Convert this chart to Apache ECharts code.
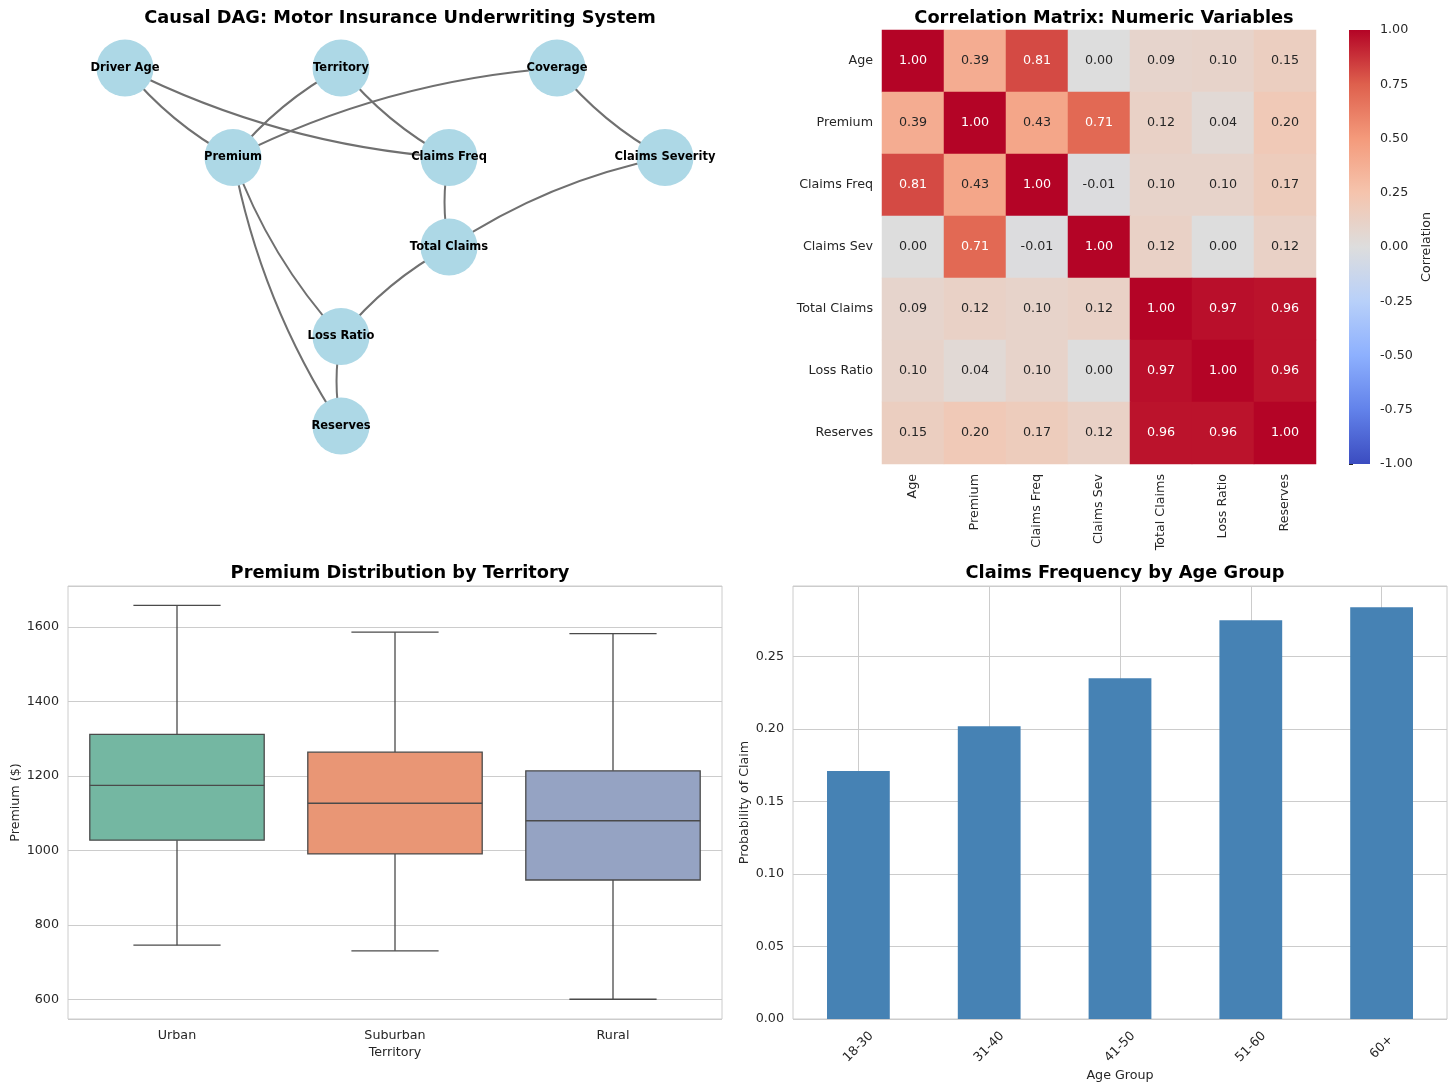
<!DOCTYPE html>
<html>
<head>
<meta charset="utf-8">
<script src="https://cdn.jsdelivr.net/npm/echarts@6/dist/echarts.min.js"></script>
<style>
html,body{margin:0;padding:0;background:#fff;}
#main{width:1456px;height:1091px;}
</style>
</head>
<body>
<div id="main"></div>
<script>
// ---------------- DATA ----------------
const dagNodes = ['Driver Age','Territory','Coverage','Premium','Claims Freq','Claims Severity','Total Claims','Loss Ratio','Reserves'];
const dagX = [0, 2, 4, 1, 3, 5, 3, 2, 2];
const dagY = [3, 3, 3, 2, 2, 2, 1, 0, -1];
const dagSources = ['Driver Age','Driver Age','Territory','Territory','Coverage','Coverage','Claims Freq','Claims Severity','Premium','Total Claims','Premium','Loss Ratio'];
const dagTargets = ['Premium','Claims Freq','Premium','Claims Freq','Premium','Claims Severity','Total Claims','Total Claims','Loss Ratio','Loss Ratio','Reserves','Reserves'];

const corrVars = ['Age','Premium','Claims Freq','Claims Sev','Total Claims','Loss Ratio','Reserves'];
const corrMatrix = [
  [1.00, 0.39, 0.81, 0.00, 0.09, 0.10, 0.15],
  [0.39, 1.00, 0.43, 0.71, 0.12, 0.04, 0.20],
  [0.81, 0.43, 1.00, -0.01, 0.10, 0.10, 0.17],
  [0.00, 0.71, -0.01, 1.00, 0.12, 0.00, 0.12],
  [0.09, 0.12, 0.10, 0.12, 1.00, 0.97, 0.96],
  [0.10, 0.04, 0.10, 0.00, 0.97, 1.00, 0.96],
  [0.15, 0.20, 0.17, 0.12, 0.96, 0.96, 1.00]
];
const corrMin = -1, corrMax = 1;

const territories = ['Urban','Suburban','Rural'];
const premLow  = [746, 731, 601];
const premQ1   = [1028, 991, 921];
const premMed  = [1175, 1127, 1080];
const premQ3   = [1312, 1264, 1214];
const premHigh = [1658, 1586, 1582];

const ageGroups = ['18-30','31-40','41-50','51-60','60+'];
const claimProb = [0.171, 0.202, 0.235, 0.275, 0.284];

// ---------------- STYLE ----------------
const FONT = 'DejaVu Sans';
const TXT = '#262626';
const GRIDC = '#cccccc';
const FS = 12.7;
const boxColors = ['#74b7a2', '#e99675', '#95a3c3'];
const coolwarm = ['#3b4cc0','#6282ea','#8db0fe','#b8d0f9','#dddddd','#f5c4ad','#f49a7b','#de604d','#b40426'];

// ---------------- BUILD ----------------
const graphData = dagNodes.map((n, i) => ({ name: n, value: [dagX[i], dagY[i]] }));
const graphLinks = dagSources.map((s, i) => ({ source: s, target: dagTargets[i] }));

const heatData = [];
corrMatrix.forEach((row, r) => row.forEach((v, c) => {
  heatData.push({ value: [c, r, v], label: { color: v > 0.6 ? '#ffffff' : TXT } });
}));

const boxData = territories.map((t, i) => [i, premLow[i], premQ1[i], premMed[i], premQ3[i], premHigh[i]]);

const titleStyle = { fontFamily: FONT, fontWeight: 'bold', fontSize: 17.8, color: '#000' };
const lblStyle = { fontFamily: FONT, fontSize: FS, color: TXT };

const chart = echarts.init(document.getElementById('main'), null, { renderer: 'canvas' });
chart.setOption({
  animation: false,
  backgroundColor: '#ffffff',
  textStyle: { fontFamily: FONT },
  title: [
    { text: 'Causal DAG: Motor Insurance Underwriting System', left: 395, top: 4, textAlign: 'center', textStyle: titleStyle },
    { text: 'Correlation Matrix: Numeric Variables', left: 1099, top: 4, textAlign: 'center', textStyle: titleStyle },
    { text: 'Premium Distribution by Territory', left: 395, top: 559, textAlign: 'center', textStyle: titleStyle },
    { text: 'Claims Frequency by Age Group', left: 1120, top: 559, textAlign: 'center', textStyle: titleStyle }
  ],
  grid: [
    { left: 71, top: 23.25, width: 648, height: 447.5 },
    { left: 882, top: 30, width: 434, height: 434 },
    { left: 1349, top: 30, width: 21, height: 434 },
    { left: 68, top: 586, width: 654, height: 433, show: true, borderColor: GRIDC, borderWidth: 1 },
    { left: 793, top: 586, width: 654, height: 433, show: true, borderColor: GRIDC, borderWidth: 1 }
  ],
  xAxis: [
    { gridIndex: 0, type: 'value', min: -0.5, max: 5.5, show: false },
    { gridIndex: 1, type: 'category', data: corrVars, axisTick: { show: false }, axisLine: { show: false },
      axisLabel: Object.assign({ rotate: 90, margin: 10, interval: 0 }, lblStyle), splitLine: { show: false } },
    { gridIndex: 2, type: 'value', min: 0, max: 1, show: false },
    { gridIndex: 3, type: 'category', data: territories, axisTick: { show: false }, axisLine: { show: false },
      axisLabel: Object.assign({ margin: 10 }, lblStyle), splitLine: { show: false },
      name: 'Territory', nameLocation: 'middle', nameGap: 27, nameTextStyle: lblStyle },
    { gridIndex: 4, type: 'category', data: ageGroups, axisTick: { show: false }, axisLine: { show: false },
      axisLabel: Object.assign({ rotate: 45, margin: 28, align: 'center', verticalAlign: 'middle', interval: 0 }, lblStyle),
      splitLine: { show: false },
      name: 'Age Group', nameLocation: 'middle', nameGap: 50, nameTextStyle: lblStyle }
  ],
  yAxis: [
    { gridIndex: 0, type: 'value', min: -1.5, max: 3.5, show: false },
    { gridIndex: 1, type: 'category', data: corrVars, inverse: true, axisTick: { show: false }, axisLine: { show: false },
      axisLabel: Object.assign({ margin: 9 }, lblStyle), splitLine: { show: false } },
    { gridIndex: 2, type: 'value', min: corrMin, max: corrMax, interval: 0.25, position: 'right',
      axisLine: { show: false }, axisTick: { show: true, length: 4, lineStyle: { color: TXT } },
      axisLabel: Object.assign({ margin: 10, formatter: v => v.toFixed(2) }, lblStyle), splitLine: { show: false },
      name: 'Correlation', nameLocation: 'middle', nameRotate: 90, nameGap: 50, nameTextStyle: lblStyle },
    { gridIndex: 3, type: 'value', min: 548, max: 1710, splitNumber: 6,
      axisLine: { show: false }, axisTick: { show: false },
      axisLabel: Object.assign({ margin: 9, showMinLabel: false, showMaxLabel: false, formatter: v => String(v) }, lblStyle),
      splitLine: { lineStyle: { color: GRIDC, width: 1 } },
      name: 'Premium ($)', nameLocation: 'middle', nameGap: 46, nameTextStyle: lblStyle },
    { gridIndex: 4, type: 'value', min: 0, max: 0.2987, interval: 0.05,
      axisLine: { show: false }, axisTick: { show: false },
      axisLabel: Object.assign({ margin: 9, showMaxLabel: false, formatter: v => v.toFixed(2) }, lblStyle),
      splitLine: { lineStyle: { color: GRIDC, width: 1 } },
      name: 'Probability of Claim', nameLocation: 'middle', nameGap: 42, nameTextStyle: lblStyle }
  ],
  visualMap: {
    type: 'continuous', min: corrMin, max: corrMax, seriesIndex: 1, show: false,
    inRange: { color: coolwarm }
  },
  series: [
    {
      type: 'graph', coordinateSystem: 'cartesian2d', xAxisIndex: 0, yAxisIndex: 0,
      data: graphData, links: graphLinks, symbol: 'circle', symbolSize: 57,
      itemStyle: { color: '#add8e6' },
      label: { show: true, position: 'inside', fontFamily: FONT, fontWeight: 'bold', fontSize: 11.5, color: '#000' },
      lineStyle: { color: '#707070', width: 2, curveness: -0.1, opacity: 1 },
      edgeSymbol: ['none', 'none'], silent: true, z: 2
    },
    {
      type: 'heatmap', xAxisIndex: 1, yAxisIndex: 1, data: heatData,
      label: { show: true, fontFamily: FONT, fontSize: FS, formatter: p => p.value[2].toFixed(2) },
      itemStyle: { borderWidth: 0 }, silent: true
    },
    {
      type: 'custom', xAxisIndex: 2, yAxisIndex: 2, data: [[0, corrMin, 1, corrMax]], silent: true,
      encode: { x: [0, 2], y: [1, 3] },
      renderItem: function (params, api) {
        const p0 = api.coord([api.value(0), api.value(1)]);
        const p1 = api.coord([api.value(2), api.value(3)]);
        const stops = coolwarm.map((c, k) => ({ offset: k / (coolwarm.length - 1), color: c }));
        return {
          type: 'rect',
          shape: { x: p0[0], y: p1[1], width: p1[0] - p0[0], height: p0[1] - p1[1] },
          style: { fill: new echarts.graphic.LinearGradient(0, 1, 0, 0, stops) }
        };
      }
    },
    {
      type: 'custom', xAxisIndex: 3, yAxisIndex: 3, data: boxData, silent: true,
      encode: { x: 0, y: [1, 2, 3, 4, 5] },
      renderItem: function (params, api) {
        const i = api.value(0);
        const band = api.size([1, 0])[0];
        const bw = band * 0.8, cw = band * 0.4;
        const cx = api.coord([i, api.value(3)])[0];
        const yL = api.coord([i, api.value(1)])[1];
        const y1 = api.coord([i, api.value(2)])[1];
        const yM = api.coord([i, api.value(3)])[1];
        const y3 = api.coord([i, api.value(4)])[1];
        const yH = api.coord([i, api.value(5)])[1];
        const lc = '#4a4a4a', lw = 1.3;
        const ls = { stroke: lc, lineWidth: lw };
        return {
          type: 'group', children: [
            { type: 'line', shape: { x1: cx, y1: yL, x2: cx, y2: y1 }, style: ls },
            { type: 'line', shape: { x1: cx, y1: y3, x2: cx, y2: yH }, style: ls },
            { type: 'line', shape: { x1: cx - cw / 2, y1: yL, x2: cx + cw / 2, y2: yL }, style: ls },
            { type: 'line', shape: { x1: cx - cw / 2, y1: yH, x2: cx + cw / 2, y2: yH }, style: ls },
            { type: 'rect', shape: { x: cx - bw / 2, y: y3, width: bw, height: y1 - y3 }, style: { fill: boxColors[params.dataIndex], stroke: lc, lineWidth: lw } },
            { type: 'line', shape: { x1: cx - bw / 2, y1: yM, x2: cx + bw / 2, y2: yM }, style: ls }
          ]
        };
      }
    },
    {
      type: 'line', xAxisIndex: 4, yAxisIndex: 4, data: [], silent: true, z: 1,
      markLine: {
        silent: true, z: 1, symbol: ['none', 'none'], label: { show: false },
        lineStyle: { color: GRIDC, width: 1, type: 'solid' },
        data: ageGroups.map(g => ({ xAxis: g }))
      }
    },
    {
      type: 'bar', xAxisIndex: 4, yAxisIndex: 4, data: claimProb, barWidth: '48%', silent: true, z: 3,
      itemStyle: { color: '#4682b4' }
    }
  ]
});
</script>
</body>
</html>
